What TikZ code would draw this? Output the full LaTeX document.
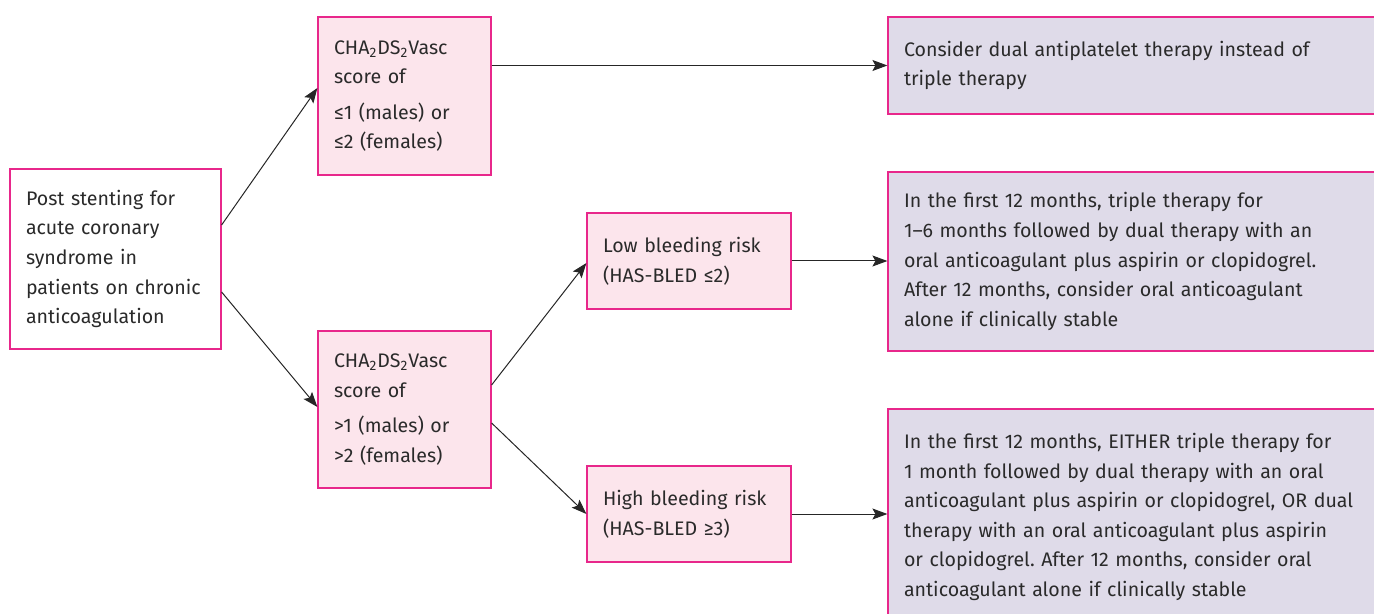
\documentclass[tikz,border=0pt]{standalone}
\usepackage{fontspec}
\setmainfont{Fira Sans}
\usetikzlibrary{arrows.meta,calc}
\definecolor{bordpink}{HTML}{E8278B}
\definecolor{fillpink}{HTML}{FCE5EC}
\definecolor{filllav}{HTML}{DFDBE9}
\definecolor{txt}{HTML}{2A2A2A}
\tikzset{
  box/.style={draw=bordpink, line width=0.6pt, inner xsep=8pt, inner ysep=0pt,
    align=left, text=txt, font=\fontsize{9.8}{14.8}\selectfont\frenchspacing, anchor=center},
  startbox/.style={box, fill=white},
  pinkbox/.style={box, fill=fillpink},
  lavbox/.style={box, fill=filllav},
  arr/.style={draw=black!85, line width=0.5pt, -{Stealth[length=7.5pt,width=5.5pt,inset=1.5pt]}}
}
\begin{document}
\frenchspacing
\begin{tikzpicture}[x=0.5pt,y=-0.5pt]
\useasboundingbox (0,0) rectangle (1374,614);
\clip (0,0) rectangle (1374,614);

\node[startbox, minimum width=105.5pt, text width=89.5pt, minimum height=90pt] (L) at (115.5,259)
  {Post stenting for\\acute coronary\\syndrome in\\patients on chronic\\anticoagulation};

\node[pinkbox, minimum width=86.5pt, text width=70.5pt, minimum height=79pt] (TM) at (404.5,96)
  {CHA\textsubscript{2}DS\textsubscript{2}Vasc\\score of\\[3pt]≤1 (males) or\\≤2 (females)};

\node[pinkbox, minimum width=86.5pt, text width=70.5pt, minimum height=78.5pt] (BM) at (404.5,409.5)
  {CHA\textsubscript{2}DS\textsubscript{2}Vasc\\score of\\[3pt]>1 (males) or\\>2 (females)};

\node[pinkbox, minimum width=102pt, text width=86pt, minimum height=48pt] (LO) at (689,261)
  {Low bleeding risk\\(HAS-BLED ≤2)};

\node[pinkbox, minimum width=102pt, text width=86pt, minimum height=48pt] (HI) at (689,514)
  {High bleeding risk\\(HAS-BLED ≥3)};

\node[lavbox, minimum width=251pt, text width=235pt, minimum height=48.5pt] (R1) at (1139,65.5)
  {Consider dual antiplatelet therapy instead of\\triple therapy};

\node[lavbox, minimum width=251pt, text width=235pt, minimum height=89.5pt] (R2) at (1139,261.5)
  {In the first 12 months, triple therapy for\\1–6 months followed by dual therapy with an\\oral anticoagulant plus aspirin or clopidogrel.\\After 12 months, consider oral anticoagulant\\alone if clinically stable};

\node[lavbox, minimum width=251pt, text width=235pt, minimum height=108pt] (R3) at (1139,517)
  {In the first 12 months, EITHER triple therapy for\\1 month followed by dual therapy with an oral\\anticoagulant plus aspirin or clopidogrel, OR dual\\therapy with an oral anticoagulant plus aspirin\\or clopidogrel. After 12 months, consider oral\\anticoagulant alone if clinically stable};

\draw[arr] ([yshift=17pt]L.east) -- ([yshift=4pt]TM.west);
\draw[arr] ([yshift=-16.5pt]L.east) -- ([yshift=1.25pt]BM.west);
\draw[arr] (R1.west -| TM.east) -- (R1.west);
\draw[arr] ([yshift=12.25pt]BM.east) -- ([yshift=-1pt]LO.west);
\draw[arr] ([yshift=-6.75pt]BM.east) -- (HI.west);
\draw[arr] (LO.east) -- (LO.east -| R2.west);
\draw[arr] (HI.east) -- (HI.east -| R3.west);
\end{tikzpicture}
\end{document}
